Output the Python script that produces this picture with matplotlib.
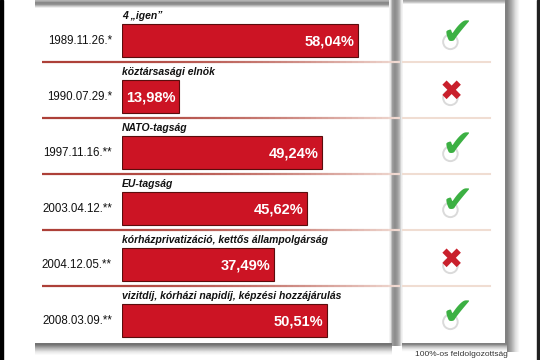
import numpy as np
import matplotlib.pyplot as plt
from matplotlib.collections import LineCollection

plt.rcParams['font.family'] = ['Liberation Sans', 'DejaVu Sans']

# adatok
dates = ["1989.11.26.*", "1990.07.29.*", "1997.11.16.**",
         "2003.04.12.**", "2004.12.05.**", "2008.03.09.**"]
topics = ["4 „igen”", "köztársasági elnök", "NATO-tagság", "EU-tagság",
          "kórházprivatizáció, kettős állampolgárság",
          "vizitdíj, kórházi napidíj, képzési hozzájárulás"]
turnout = [58.04, 13.98, 49.24, 45.62, 37.49, 50.51]
valid = [True, False, True, True, False, True]

W, H = 540, 360
fig = plt.figure(figsize=(5.4, 3.6), dpi=100)
fig.patch.set_facecolor('white')

# sfondo con ombre (coordinate in pixel)
bg = fig.add_axes([0, 0, 1, 1])
bg.set_xlim(0, W)
bg.set_ylim(H, 0)
bg.axis('off')


def shade(x0, x1, y0, y1, vals, vertical=False):
    g = np.array(vals, dtype=float)
    g = g[:, None] if vertical else g[None, :]
    bg.imshow(g, cmap='gray', vmin=0, vmax=1, extent=(x0, x1, y1, y0),
              aspect='auto', interpolation='bilinear', zorder=1)


shade(35, 390, 0, 9, [0.7, 0.52, 0.58, 0.8, 1.0], vertical=True)
shade(402, 505, 0, 5, [0.65, 0.8, 1.0], vertical=True)
shade(389, 403, 0, 346, [0.95, 0.62, 0.55, 0.6, 0.72, 0.95])
shade(505, 522, 0, 352, [0.5, 0.66, 0.87, 1.0])
shade(35, 392, 343, 357, [0.45, 0.7, 0.9, 1.0], vertical=True)
shade(402, 507, 343, 353, [0.5, 0.75, 0.92, 1.0], vertical=True)
bg.axvspan(0, 2.5, color='black', zorder=2)
bg.axvspan(537, 540, color='#202020', zorder=2)
bg.text(461, 354, "100%-os feldolgozottság", ha='center', va='center',
        fontsize=6, color='#333333', zorder=3)

# barre
ppx = 4.066  # pixel per percentuale
ax = fig.add_axes([122 / W, (H - 342) / H, (390 - 122) / W, 336 / H])
ax.set_xlim(0, (390 - 122) / ppx)
ax.set_ylim(6, 0)
ax.axis('off')

rows = np.arange(len(turnout))
ax.barh(rows + 0.615, turnout, height=0.6, color='#cc1424',
        edgecolor='#5a0d0d', linewidth=0.8, zorder=3)

for i, v in enumerate(turnout):
    ax.text(v - 0.9, i + 0.63, f"{v:.2f}%".replace('.', ','), ha='right',
            va='center', color='white', fontsize=10.5, fontweight='bold', zorder=4)
    ax.text(0, i + 0.17, topics[i], ha='left', va='center', fontsize=7.5,
            fontweight='bold', fontstyle='italic', color='#111111')
    ax.text(-2.5, i + 0.63, dates[i], ha='right', va='center', fontsize=8.3,
            color='#111111')

# linee di separazione con sfumatura
n = 60
xs = np.linspace((42 - 122) / ppx, (400 - 122) / ppx, n + 1)
t = np.linspace(0, 1, n)
cols = [(0.68 + 0.26 * k ** 2, 0.25 + 0.6 * k ** 2, 0.22 + 0.6 * k ** 2) for k in t]
for i in range(len(turnout) - 1):
    segs = [[(xs[j], i + 1), (xs[j + 1], i + 1)] for j in range(n)]
    ax.add_collection(LineCollection(segs, colors=cols, linewidths=1.6,
                                     clip_on=False, zorder=2))

# colonna validità
ax2 = fig.add_axes([402 / W, (H - 342) / H, 103 / W, 336 / H])
ax2.set_xlim(0, 1)
ax2.set_ylim(6, 0)
ax2.axis('off')
for i in range(len(turnout) - 1):
    ax2.plot([0, 0.85], [i + 1, i + 1], color='#f0ddd2', lw=1.5)

for i, ok in enumerate(valid):
    ax2.scatter([0.47], [i + 0.64], s=110, facecolors='none',
                edgecolors='#dadada', linewidths=1.4, zorder=2)
    if ok:
        ax2.text(0.54, i + 0.5, "✔", ha='center', va='center', fontsize=27,
                 color='#3cb043', family='DejaVu Sans', zorder=3)
    else:
        ax2.text(0.48, i + 0.53, "✖", ha='center', va='center', fontsize=20,
                 color='#c9202c', family='DejaVu Sans', zorder=3)

fig.savefig('out.png', dpi=100)
